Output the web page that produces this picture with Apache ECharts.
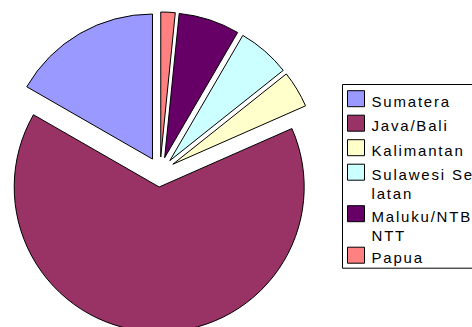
<!DOCTYPE html>
<html>
<head>
<meta charset="utf-8">
<script src="https://cdn.jsdelivr.net/npm/echarts@6/dist/echarts.min.js"></script>
<style>
  html, body { margin: 0; padding: 0; background: #ffffff; }
  #chart { width: 472px; height: 327px; }
  /* Legend lettering is spaced out a little */
  #chart text { letter-spacing: 1.8px; }
</style>
</head>
<body>
<div id="chart"></div>
<script>
// Share of each region (percent)
const regions = ['Sumatera', 'Java/Bali', 'Kalimantan', 'Sulawesi Selatan', 'Maluku/NTB-NTT', 'Papua'];
const shares = [16.7, 64.9, 4.1, 5.9, 6.8, 1.6];
// Legend captions as they wrap inside the legend box
const legendCaptions = ['Sumatera', 'Java/Bali', 'Kalimantan', 'Sulawesi Se-\nlatan', 'Maluku/NTB-\nNTT', 'Papua'];

const palette = ['#9999FF', '#993366', '#FFFFCC', '#CCFFFF', '#660066', '#FF8080'];

const captionOf = {};
regions.forEach((r, i) => { captionOf[r] = legendCaptions[i]; });

// Caption boxes are one line tall, so a wrapped caption keeps its marker
// level with the first line and its second line hangs below.
const LINE = 19;

const chart = echarts.init(document.getElementById('chart'), null, { renderer: 'svg' });
chart.setOption({
  animation: false,
  backgroundColor: '#ffffff',
  legend: {
    orient: 'vertical',
    left: 342.5,
    top: 84.5,
    padding: [2.2, 70, 1, 4.5],
    itemGap: 0.5,
    itemWidth: 17,
    itemHeight: 16,
    icon: 'rect',
    selectedMode: false,
    backgroundColor: '#ffffff',
    borderColor: '#000000',
    borderWidth: 1,
    itemStyle: { borderColor: '#000000', borderWidth: 1 },
    textStyle: {
      fontFamily: 'Liberation Sans, Arial, sans-serif',
      fontSize: 15,
      lineHeight: LINE,
      height: LINE,
      color: '#000000',
      backgroundColor: 'transparent',
      padding: [5, 0, 0, 2],
      rich: { plain: {} }
    },
    formatter: name => captionOf[name],
    data: regions
  },
  series: [{
    type: 'pie',
    center: [160, 172],
    radius: 145,
    startAngle: 90,
    clockwise: false,
    selectedMode: 'multiple',
    selectedOffset: 15,
    label: { show: false },
    labelLine: { show: false },
    emphasis: { disabled: true },
    itemStyle: { borderColor: '#000000', borderWidth: 1 },
    data: regions.map((r, i) => ({
      name: r,
      value: shares[i],
      selected: true,
      itemStyle: { color: palette[i] },
      select: { itemStyle: { color: palette[i], borderColor: '#000000', borderWidth: 1 } }
    }))
  }]
});
</script>
</body>
</html>
